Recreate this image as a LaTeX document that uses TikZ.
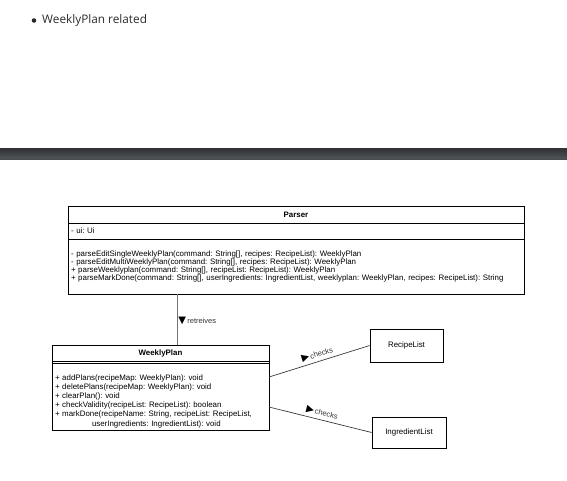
\documentclass[tikz,border=0pt]{standalone}
\usepackage{fontspec}
\setmainfont{Liberation Sans}
\newfontfamily\headfont{Open Sans}
\newfontfamily\symfont{DejaVu Sans}
\usetikzlibrary{positioning}
\frenchspacing
\definecolor{headgray}{HTML}{2B2B2B}
\definecolor{bartop}{HTML}{2E3032}
\definecolor{barbot}{HTML}{52565A}
\definecolor{linkgray}{HTML}{3A3A3A}

\tikzset{
  umlpart/.style={draw=black, line width=0.7pt, inner ysep=0pt, inner xsep=3pt, outer sep=0pt,
    anchor=north west, font=\fontsize{7.9}{8}\selectfont},
  umlhead/.style={umlpart, align=center, font=\fontsize{7.9}{8}\selectfont\bfseries},
  umlbody/.style={umlpart, align=left},
  plainbox/.style={draw=black, line width=0.7pt, inner sep=0pt, font=\fontsize{7.9}{8}\selectfont},
  assoc/.style={draw=linkgray, line width=0.7pt},
  linklabel/.style={font=\fontsize{7.5}{8}\selectfont, text=black!80, inner sep=1pt}
}
\newcommand{\dirmark}[1]{{\symfont\fontsize{10}{10}\selectfont\color{black}#1}}

\begin{document}
\begin{tikzpicture}[x=1pt,y=-1pt]
    \useasboundingbox (0,0) rectangle (567,480);

    % heading above the separator
    \node[circle, fill=headgray, inner sep=0pt, minimum size=4.6pt] (dot) at (34,20.5) {};
    \node[anchor=west, inner sep=0pt, text=headgray, font=\headfont\fontsize{11.8}{13}\selectfont] (heading) at (42,20.5) {WeeklyPlan related};

    % separator bar
    \shade[top color=bartop, bottom color=barbot] (0,148) rectangle (567,159);
    \draw[black!80, line width=0.5pt] (0,148) -- (567,148);
    \draw[black!70, line width=0.5pt] (0,159) -- (567,159);

    % Parser class
    \node[umlhead, text width=450pt, minimum height=17pt] (parser) at (68,206) {Parser};
    \node[umlbody, text width=450pt, minimum height=16pt, below=0pt of parser] (parserAttr) {- ui: Ui};
    \node[umlbody, text width=450pt, minimum height=55pt, below=0pt of parserAttr] (parserOps) {%
        - parseEditSingleWeeklyPlan(command: String[], recipes: RecipeList): WeeklyPlan\\
        - parseEditMultiWeeklyPlan(command: String[], recipes: RecipeList): WeeklyPlan\\
        + parseWeeklyplan(command: String[], recipeList: RecipeList): WeeklyPlan\\
        + parseMarkDone(command: String[], userIngredients: IngredientList, weeklyplan: WeeklyPlan, recipes: RecipeList): String};

    % WeeklyPlan class
    \node[umlhead, text width=211pt, minimum height=16pt] (plan) at (52,345) {WeeklyPlan};
    \node[umlbody, text width=211pt, minimum height=2pt, below=0pt of plan] (planAttr) {};
    \node[umlbody, text width=211pt, minimum height=67pt, below=0pt of planAttr,
          font=\fontsize{7.9}{9.2}\selectfont] (planOps) {%
        \rule{0pt}{15pt}+ addPlans(recipeMap: WeeklyPlan): void\\
        + deletePlans(recipeMap: WeeklyPlan): void\\
        + clearPlan(): void\\
        + checkValidity(recipeList: RecipeList): boolean\\
        + markDone(recipeName: String, recipeList: RecipeList,\\
        \hspace*{37pt}userIngredients: IngredientList): void};

    % other classes
    \node[plainbox, minimum width=73pt, minimum height=33pt] (recipeList) at (406.5,345.5) {RecipeList};
    \node[plainbox, minimum width=74pt, minimum height=31pt] (ingredientList) at (409,432.5) {IngredientList};

    % associations
    \draw[draw=black!55, line width=0.8pt] ([xshift=16.5pt]plan.north) -- ([xshift=16.5pt]plan.north |- parserOps.south)
        node[pos=0.47, anchor=west, inner sep=2.5pt, linklabel] {\dirmark{▼}\,retreives};
    \draw[assoc] ([yshift=-14pt]planOps.north east) -- (recipeList.west)
        node[pos=0.5, sloped, above=2pt, linklabel] {\dirmark{▶}\,checks};
    \draw[assoc] ([yshift=-44pt]planOps.north east) -- (ingredientList.west)
        node[pos=0.5, sloped, above=2pt, linklabel] {\dirmark{▶}\,checks};
\end{tikzpicture}
\end{document}
